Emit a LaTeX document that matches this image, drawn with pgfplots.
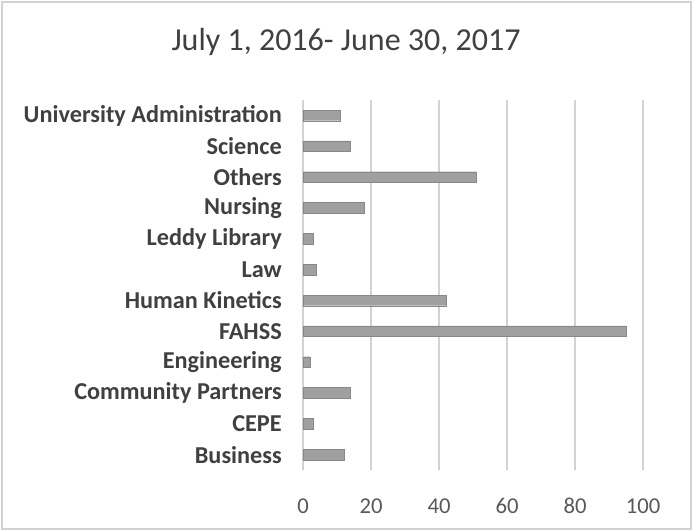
\documentclass[border=0pt]{standalone}
\usepackage{fontspec}
\setmainfont{Carlito}
\usepackage{pgfplots}
\pgfplotsset{compat=1.18}
\definecolor{bargray}{HTML}{A0A0A0}
\definecolor{labgray}{HTML}{404040}
\definecolor{tickgray}{HTML}{595959}
\begin{document}
\begin{tikzpicture}[x=1pt,y=1pt]
\fill[white] (0,0) rectangle (519.75,398.25);
\draw[gray!35, line width=1pt] (1.5,1.5) rectangle (518.25,396.75);
\node[font=\fontsize{24}{28}\selectfont, text=labgray] at (259.5,366.75) {July 1, 2016- June 30, 2017};
\begin{axis}[
  at={(227.25pt,45.75pt)}, anchor=south west,
  scale only axis, width=255pt, height=277.5pt,
  xbar, bar width=8pt,
  xmin=0, xmax=100, ymin=-0.5, ymax=11.5,
  xtick={0,20,...,100},
  ytick={0,...,11},
  yticklabels={Business,CEPE,Community Partners,Engineering,FAHSS,Human Kinetics,Law,Leddy Library,Nursing,Others,Science,University Administration},
  major tick length=0pt,
  axis line style={draw=none},
  xmajorgrids, grid style={gray!35, line width=0.8pt},
  /pgf/number format/assume math mode=true,
  xticklabel style={font=\fontsize{17}{20}\selectfont, text=tickgray, inner sep=0pt, anchor=base, yshift=-33pt},
  yticklabel style={font=\bfseries\fontsize{18.2}{21}\selectfont, text=labgray, inner sep=0pt, xshift=-15.75pt},
]
\draw[gray!35, line width=0.8pt] (axis cs:0,-0.5) -- (axis cs:0,11.5);
\addplot[fill=bargray, draw=bargray!85!black, line width=0.3pt] coordinates {
(12,0) (3,1) (14,2) (2,3) (95,4) (42,5) (4,6) (3,7) (18,8) (51,9) (14,10) (11,11)
};
\end{axis}
\end{tikzpicture}
\end{document}
